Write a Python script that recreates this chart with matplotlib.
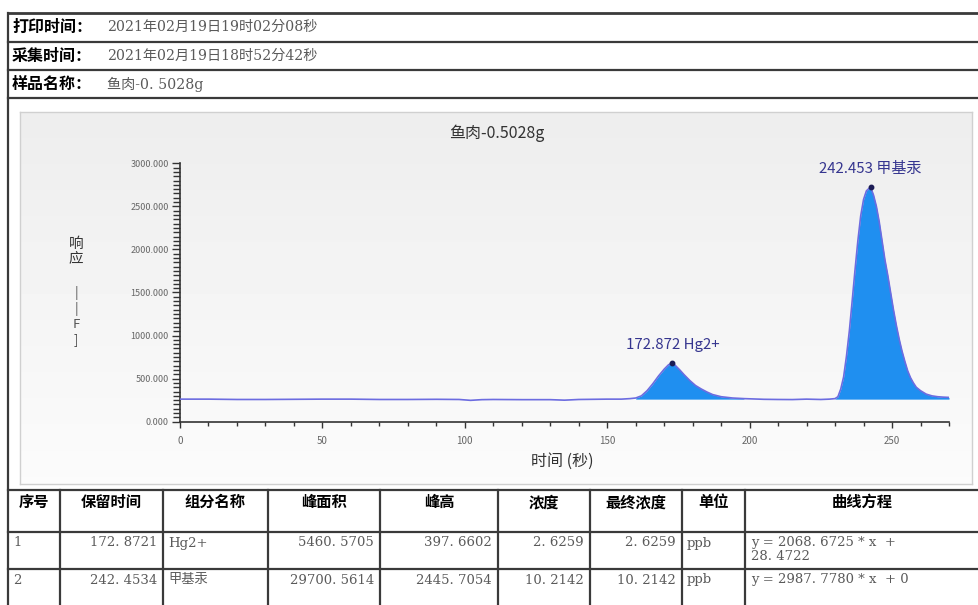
import numpy as np
import matplotlib
matplotlib.use("Agg")
import matplotlib.pyplot as plt
from matplotlib.lines import Line2D
from matplotlib.ticker import MultipleLocator, FormatStrFormatter

plt.rcParams['font.family'] = ['Noto Sans CJK SC', 'DejaVu Sans']
SERIF = ['DejaVu Serif', 'Noto Sans CJK SC']

# report header
header_labels = ['打印时间：', '采集时间：', '样品名称：']
header_values = ['2021年02月19日19时02分08秒', '2021年02月19日18时52分42秒', '鱼肉-0. 5028g']
chart_title = '鱼肉-0.5028g'

# chromatogram
time_s = [0, 10, 20, 30, 40, 50, 60, 70, 80, 90, 98, 102, 106, 110,
          120, 130, 135, 140, 150, 155, 158, 160, 162, 164, 166, 168, 170, 171.5, 172.87,
          174, 175.5, 177, 179, 181, 183, 185, 187, 190, 194, 198,
          205, 210, 215, 220, 225, 228,
          230, 231, 232, 233, 234, 235, 236, 237, 238, 239, 240, 241, 242.45,
          243.5, 244.5, 245.5, 246.5, 247.5, 248.5, 249.5, 250.5, 251.5, 252.5, 253.5,
          254.5, 255.5, 256.5, 257.5, 258.5, 260, 262, 264, 266, 268, 270]
response = [262, 262, 258, 258, 260, 262, 262, 258, 258, 260, 258, 248, 256, 258,
            256, 256, 250, 258, 262, 262, 268, 275, 300, 360, 440, 530, 610, 660, 685,
            650, 600, 545, 478, 420, 380, 345, 315, 290, 275, 268,
            260, 258, 257, 262, 258, 262,
            268, 290, 380, 520, 760, 1050, 1400, 1760, 2100, 2390, 2580, 2680, 2725,
            2630, 2500, 2320, 2100, 1880, 1700, 1500, 1300, 1120, 960, 820,
            700, 590, 510, 450, 400, 360, 320, 300, 290, 285, 282]
baseline_level = 262
peak_windows = [(160, 198), (230, 270)]
peak_times = [172.872, 242.453]
peak_names = ['Hg2+', '甲基汞']

# result table
col_heads = ['序号', '保留时间', '组分名称', '峰面积', '峰高', '浓度', '最终浓度', '单位', '曲线方程']
row_ids = ['1', '2']
ret_times = [172.8721, 242.4534]
comp_names = ['Hg2+', '甲基汞']
areas = [5460.5705, 29700.5614]
heights = [397.6602, 2445.7054]
conc = [2.6259, 10.2142]
final_conc = [2.6259, 10.2142]
units = ['ppb', 'ppb']
equations = ['y = 2068. 6725 * x  +\n28. 4722', 'y = 2987. 7780 * x  + 0']

W, H = 979, 605
fig = plt.figure(figsize=(W / 100, H / 100), dpi=100)
fig.patch.set_facecolor('white')


def fx(px):
    return px / W


def fy(py):
    return 1 - py / H


def hline(y, x0=8, x1=979, lw=1.6, c='#3a3a3a'):
    fig.add_artist(Line2D([fx(x0), fx(x1)], [fy(y), fy(y)], lw=lw, color=c, transform=fig.transFigure))


def vline(x, y0, y1, lw=1.6, c='#3a3a3a'):
    fig.add_artist(Line2D([fx(x), fx(x)], [fy(y0), fy(y1)], lw=lw, color=c, transform=fig.transFigure))


def num(v):
    return f"{v:.4f}".replace('.', '. ')


# header block
for y in [13, 42, 70, 98]:
    hline(y, lw=2.0 if y == 13 else 1.6)
vline(8, 13, 605)
for i, (lab, val) in enumerate(zip(header_labels, header_values)):
    yc = 27 + i * 28.5
    fig.text(fx(12), fy(yc), lab, fontsize=11.5, fontweight='bold', va='center', color='black')
    fig.text(fx(107), fy(yc), val, fontsize=10.2, va='center', color='#5a5a5a', family=SERIF)

# chart panel with soft gradient
bg = fig.add_axes([fx(20), fy(484), fx(972) - fx(20), fy(112) - fy(484)], zorder=0)
grad = np.linspace(0.93, 0.985, 100).reshape(-1, 1)
bg.imshow(grad, aspect='auto', cmap='gray', vmin=0, vmax=1, extent=[0, 1, 0, 1], origin='upper')
bg.set_xticks([])
bg.set_yticks([])
for s in bg.spines.values():
    s.set_color('#d0d0d0')
    s.set_linewidth(1.0)

ax = fig.add_axes([fx(180), fy(421.7), fx(949) - fx(180), fy(163.3) - fy(421.7)], zorder=2)
ax.patch.set_alpha(0)
t = np.array(time_s)
r = np.array(response)
for a, b in peak_windows:
    m = (t >= a) & (t <= b)
    ax.fill_between(t, baseline_level, r, where=m, color='#1f8ff0', lw=0, zorder=2)
ax.plot(t, r, color='#6c6ce0', lw=1.2, zorder=3)

for pt, name in zip(peak_times, peak_names):
    idx = int(np.argmin(np.abs(t - pt)))
    py = r[idx]
    ax.plot([pt], [py], 'o', ms=3.2, color='#1c1c55', zorder=4)
    ax.annotate(f"{pt:.3f} {name}", (pt, py), xytext=(0, 8), textcoords='offset points',
                ha='center', va='bottom', fontsize=10.8, color='#35358f')

ax.set_xlim(0, 270)
ax.set_ylim(0, 3000)
for s in ['top', 'right']:
    ax.spines[s].set_visible(False)
for s in ['left', 'bottom']:
    ax.spines[s].set_color('#333333')
    ax.spines[s].set_linewidth(1.2)
ax.xaxis.set_major_locator(MultipleLocator(50))
ax.xaxis.set_minor_locator(MultipleLocator(10))
ax.yaxis.set_major_locator(MultipleLocator(500))
ax.yaxis.set_minor_locator(MultipleLocator(50))
ax.yaxis.set_major_formatter(FormatStrFormatter('%.3f'))
ax.tick_params(axis='both', which='both', direction='out', color='#333333', width=1.0)
ax.tick_params(axis='y', which='major', length=6, labelsize=6.5, labelcolor='#666666', pad=2)
ax.tick_params(axis='y', which='minor', length=5)
ax.tick_params(axis='x', which='major', length=4, labelsize=7, labelcolor='#666666', pad=6)
ax.tick_params(axis='x', which='minor', length=3)

fig.text(fx(497), fy(133), chart_title, fontsize=11.5, ha='center', va='center', color='#333333')
fig.text(fx(562), fy(461), '时间 (秒)', fontsize=11.5, ha='center', va='center', color='#333333')
fig.text(fx(76), fy(251), '响\n应', fontsize=10.5, ha='center', va='center', color='#333333', linespacing=1.05)
fig.text(fx(76), fy(316), '|\n|\nF\n]', fontsize=9.5, ha='center', va='center', color='#555555', linespacing=1.2)

# result table
col_x = [8, 60, 163, 268, 380, 498, 590, 682, 745, 979]
for y in [490, 532, 569]:
    hline(y)
for x in col_x[1:-1]:
    vline(x, 490, 605)
for i, head in enumerate(col_heads):
    xc = (col_x[i] + col_x[i + 1]) / 2
    fig.text(fx(xc), fy(502), head, fontsize=11, fontweight='bold', ha='center', va='center')

cell_style = dict(fontsize=9.5, va='center', color='#5a5a5a', family=SERIF)
for j in range(len(row_ids)):
    yc = 543 + j * 37
    right = [(1, num(ret_times[j])), (3, num(areas[j])), (4, num(heights[j])),
             (5, num(conc[j])), (6, num(final_conc[j]))]
    left = [(0, row_ids[j]), (2, comp_names[j]), (7, units[j])]
    for c, txt in right:
        fig.text(fx(col_x[c + 1] - 6), fy(yc), txt, ha='right', **cell_style)
    for c, txt in left:
        fig.text(fx(col_x[c] + 5), fy(yc), txt, ha='left', **cell_style)
    fig.text(fx(col_x[8] + 6), fy(yc - 7), equations[j], ha='left',
             linespacing=1.1, fontsize=9.5, va='top', color='#5a5a5a', family=SERIF)

fig.savefig('out.png', dpi=100)
